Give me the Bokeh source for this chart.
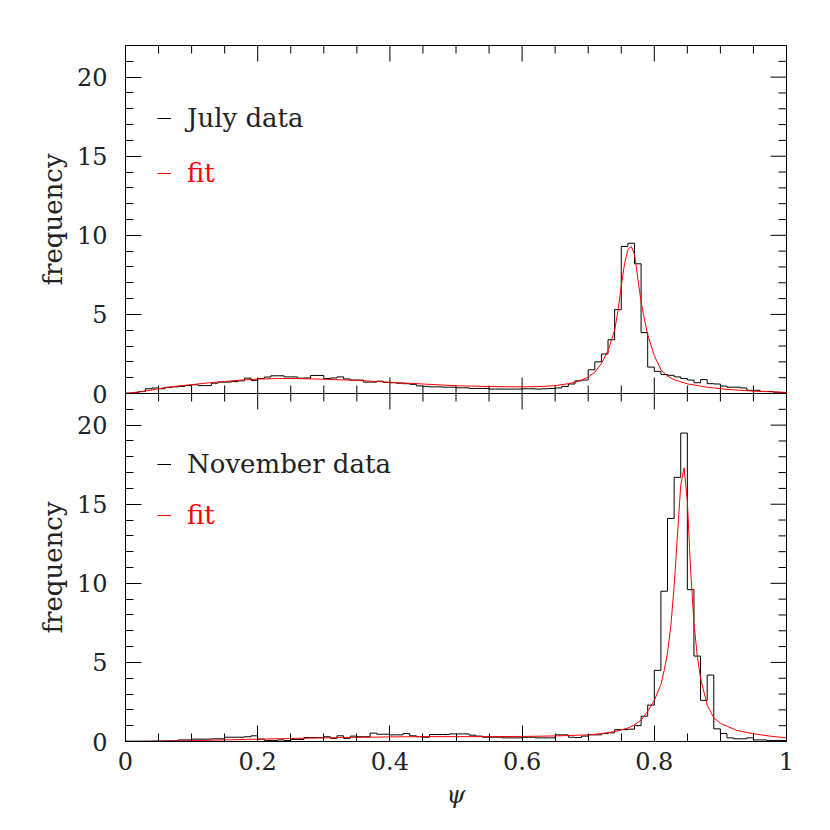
import math
from bokeh.plotting import figure
from bokeh.models import (LinearAxis, Legend, LegendItem, FixedTicker, Range1d, Span)
from bokeh.embed import file_html
from bokeh.resources import INLINE

# ---------------- data ----------------
bin_left = [round(i * 0.01, 2) for i in range(100)]
bin_edges = bin_left + [1.0]

july_freq = [
    0.02, 0.05, 0.12, 0.30, 0.35, 0.30, 0.38, 0.42, 0.45, 0.50,
    0.55, 0.50, 0.50, 0.65, 0.72, 0.72, 0.75, 0.80, 0.97, 0.83,
    0.95, 1.04, 1.12, 1.12, 1.05, 1.05, 0.97, 0.98, 1.14, 1.14,
    0.95, 0.98, 1.05, 0.92, 0.85, 0.85, 0.72, 0.72, 0.78, 0.70,
    0.68, 0.65, 0.62, 0.58, 0.48, 0.45, 0.42, 0.42, 0.40, 0.40,
    0.36, 0.36, 0.32, 0.32, 0.32, 0.28, 0.28, 0.28, 0.28, 0.28,
    0.30, 0.30, 0.28, 0.30, 0.32, 0.35, 0.45, 0.60, 0.80, 0.85,
    1.50, 2.00, 2.50, 3.40, 5.30, 9.30, 9.50, 8.20, 3.85, 1.67,
    1.40, 1.20, 1.15, 1.05, 0.95, 0.85, 0.68, 0.88, 0.62, 0.60,
    0.47, 0.40, 0.40, 0.35, 0.20, 0.20, 0.13, 0.13, 0.08, 0.06,
]

nov_freq = [
    0.02, 0.02, 0.02, 0.02, 0.03, 0.03, 0.04, 0.04, 0.10, 0.10,
    0.15, 0.15, 0.15, 0.17, 0.17, 0.27, 0.27, 0.27, 0.30, 0.36,
    0.15, 0.06, 0.06, 0.10, 0.06, 0.13, 0.13, 0.25, 0.25, 0.25,
    0.30, 0.20, 0.36, 0.20, 0.34, 0.30, 0.30, 0.53, 0.46, 0.46,
    0.42, 0.42, 0.50, 0.36, 0.30, 0.27, 0.44, 0.44, 0.44, 0.48,
    0.48, 0.48, 0.40, 0.34, 0.27, 0.27, 0.27, 0.23, 0.23, 0.23,
    0.27, 0.27, 0.23, 0.23, 0.23, 0.42, 0.42, 0.27, 0.25, 0.34,
    0.42, 0.42, 0.50, 0.55, 0.75, 0.75, 0.78, 1.00, 1.60, 2.30,
    4.50, 9.50, 14.10, 16.70, 19.50, 9.60, 5.40, 2.60, 4.20, 0.80,
    0.50, 0.23, 0.17, 0.17, 0.23, 0.10, 0.10, 0.06, 0.06, 0.06,
]

july_fit_psi = [0.00, 0.02, 0.04, 0.06, 0.08, 0.10, 0.125, 0.15, 0.175, 0.20,
                0.225, 0.25, 0.275, 0.30, 0.35, 0.40, 0.45, 0.50, 0.55, 0.60,
                0.63, 0.65, 0.67, 0.68, 0.69, 0.70, 0.71, 0.72, 0.73, 0.74,
                0.745, 0.75, 0.755, 0.76, 0.765, 0.77, 0.775, 0.78, 0.785, 0.79,
                0.80, 0.81, 0.82, 0.83, 0.85, 0.88, 0.91, 0.95, 1.00]
july_fit_val = [0.00, 0.10, 0.22, 0.38, 0.48, 0.56, 0.67, 0.76, 0.85, 0.91,
                0.94, 0.95, 0.93, 0.90, 0.83, 0.71, 0.60, 0.49, 0.44, 0.42,
                0.44, 0.50, 0.62, 0.72, 0.85, 1.04, 1.35, 1.90, 2.70, 4.00,
                5.20, 6.80, 8.20, 9.10, 9.30, 8.80, 7.30, 5.80, 4.70, 3.70,
                2.40, 1.50, 1.10, 0.87, 0.61, 0.40, 0.26, 0.15, 0.07]

nov_fit_psi = [0.00, 0.05, 0.10, 0.15, 0.20, 0.25, 0.30, 0.35, 0.40, 0.45,
               0.50, 0.55, 0.60, 0.65, 0.70, 0.72, 0.74, 0.76, 0.77, 0.78,
               0.79, 0.80, 0.81, 0.815, 0.82, 0.825, 0.83, 0.835, 0.84, 0.845,
               0.85, 0.855, 0.86, 0.865, 0.87, 0.88, 0.89, 0.90, 0.925, 0.95,
               0.975, 1.00]
nov_fit_val = [0.00, 0.01, 0.05, 0.10, 0.15, 0.19, 0.23, 0.26, 0.29, 0.31,
               0.31, 0.31, 0.32, 0.35, 0.42, 0.50, 0.62, 0.85, 1.05, 1.35,
               1.90, 2.60, 3.60, 4.50, 5.60, 7.30, 9.80, 13.00, 16.20, 17.30,
               15.20, 10.80, 7.50, 5.40, 4.00, 2.30, 1.50, 1.15, 0.70, 0.49,
               0.34, 0.23]

x_major = [0, 0.2, 0.4, 0.6, 0.8, 1]
x_minor = [round(i * 0.05, 2) for i in range(21)]
x_labels = {0: "0", 0.2: "0.2", 0.4: "0.4", 0.6: "0.6", 0.8: "0.8", 1: "1"}
y_major = [0, 5, 10, 15, 20]
y_minor = list(range(0, 23))
Y_MAX = 22          # each panel shows 0 .. 22
Y_TITLE = "frequency"

FONT = "DejaVu Serif"
TXT = "#222222"

# One frame holds both panels: bottom panel uses the default range (0..22 of 0..44),
# top panel uses the extra range "top" (its 0..22 sits in the upper half).
p = figure(frame_width=661, frame_height=696,
           x_range=Range1d(0, 1), y_range=Range1d(0, 2 * Y_MAX),
           output_backend="svg", toolbar_location=None,
           x_axis_location=None, y_axis_location=None,
           min_border_left=125, min_border_top=45, min_border_right=28,
           min_border_bottom=70)
p.extra_y_ranges = {"top": Range1d(-Y_MAX, Y_MAX)}
p.grid.visible = False
p.outline_line_color = "black"
p.outline_line_width = 1
p.background_fill_color = "white"
p.border_fill_color = "white"

# ---- left axis (tick labels for both panels) ----
left_ticks = y_major + [v + Y_MAX for v in y_major]
left_minor = y_minor + [v + Y_MAX for v in y_minor]
left = LinearAxis(ticker=FixedTicker(ticks=left_ticks, minor_ticks=left_minor))
left.major_label_overrides = {v + Y_MAX: str(v) for v in y_major}
left.major_tick_in = 16
left.major_tick_out = 0
left.minor_tick_in = 8
left.minor_tick_out = 0
left.axis_line_color = "black"
left.major_tick_line_color = "black"
left.minor_tick_line_color = "black"
left.major_label_text_font = FONT
left.major_label_text_color = TXT
left.major_label_text_font_size = "24px"
left.major_label_standoff = 18
p.add_layout(left, "left")

# ---- outer left axis carrying one "frequency" title per panel ----
title_ticks = [Y_MAX / 2, Y_MAX + Y_MAX / 2]
titles = LinearAxis(ticker=FixedTicker(ticks=title_ticks, minor_ticks=[]))
titles.major_label_overrides = {t: Y_TITLE for t in title_ticks}
titles.major_label_orientation = "parallel"
titles.major_tick_in = 0
titles.major_tick_out = 0
titles.minor_tick_in = 0
titles.minor_tick_out = 0
titles.axis_line_color = None
titles.major_tick_line_color = None
titles.minor_tick_line_color = None
titles.major_label_text_font = FONT
titles.major_label_text_color = TXT
titles.major_label_text_font_size = "26px"
titles.major_label_standoff = 6
p.add_layout(titles, "left")

# ---- bottom axis ----
below = LinearAxis(ticker=FixedTicker(ticks=x_major, minor_ticks=x_minor))
below.major_tick_in = 16
below.major_tick_out = 0
below.minor_tick_in = 8
below.minor_tick_out = 0
below.axis_line_color = "black"
below.major_tick_line_color = "black"
below.minor_tick_line_color = "black"
below.major_label_text_font = FONT
below.major_label_text_color = TXT
below.major_label_text_font_size = "24px"
below.major_label_overrides = x_labels
below.major_label_standoff = 10
below.axis_label = "ψ"
below.axis_label_text_font = FONT
below.axis_label_text_font_size = "24px"
below.axis_label_text_font_style = "italic"
below.axis_label_text_color = TXT
below.axis_label_standoff = 8
p.add_layout(below, "below")

# ---- separator between the panels ----
p.add_layout(Span(location=Y_MAX, dimension="width", line_color="black", line_width=1))

# ---- tick marks on the top edge, the separator and the right edge ----
# (dash markers centred on the edge; glyphs are clipped to the frame)
minor_only_x = [v for v in x_minor if v not in x_major]
for yy in (0, Y_MAX):
    p.scatter(x=x_major, y=[yy] * len(x_major), marker="dash", size=32,
              angle=math.pi / 2, line_color="black", y_range_name="top")
    p.scatter(x=minor_only_x, y=[yy] * len(minor_only_x), marker="dash", size=16,
              angle=math.pi / 2, line_color="black", y_range_name="top")
minor_only_y = [v for v in y_minor if v not in y_major]
for rng in ("default", "top"):
    p.scatter(x=[1] * len(y_major), y=y_major, marker="dash", size=32,
              line_color="black", y_range_name=rng)
    p.scatter(x=[1] * len(minor_only_y), y=minor_only_y, marker="dash", size=16,
              line_color="black", y_range_name=rng)

# ---- data ----
r_hist_top = p.step(x=bin_edges, y=july_freq + [july_freq[-1]], mode="after",
                    line_color="black", line_width=1, y_range_name="top")
r_fit_top = p.line(x=july_fit_psi, y=july_fit_val, line_color="#ff0000",
                   line_width=1, y_range_name="top")
r_hist_bot = p.step(x=bin_edges, y=nov_freq + [nov_freq[-1]], mode="after",
                    line_color="black", line_width=1)
r_fit_bot = p.line(x=nov_fit_psi, y=nov_fit_val, line_color="#ff0000", line_width=1)

# ---- legends ----
common = dict(padding=0, spacing=0, margin=0, border_line_color=None,
              background_fill_alpha=0, glyph_width=14, glyph_height=20,
              label_standoff=16, label_text_font=FONT,
              label_text_font_size="26px", label_height=20)
for label, rend, color, loc in (
        ("July data", r_hist_top, TXT, (32, 608)),
        ("fit", r_fit_top, "#ff0000", (32, 553)),
        ("November data", r_hist_bot, TXT, (32, 262)),
        ("fit", r_fit_bot, "#ff0000", (32, 211))):
    p.add_layout(Legend(items=[LegendItem(label=label, renderers=[rend])],
                        location=loc, label_text_color=color, **common), "center")

open("out.html", "w").write(file_html(p, INLINE))
